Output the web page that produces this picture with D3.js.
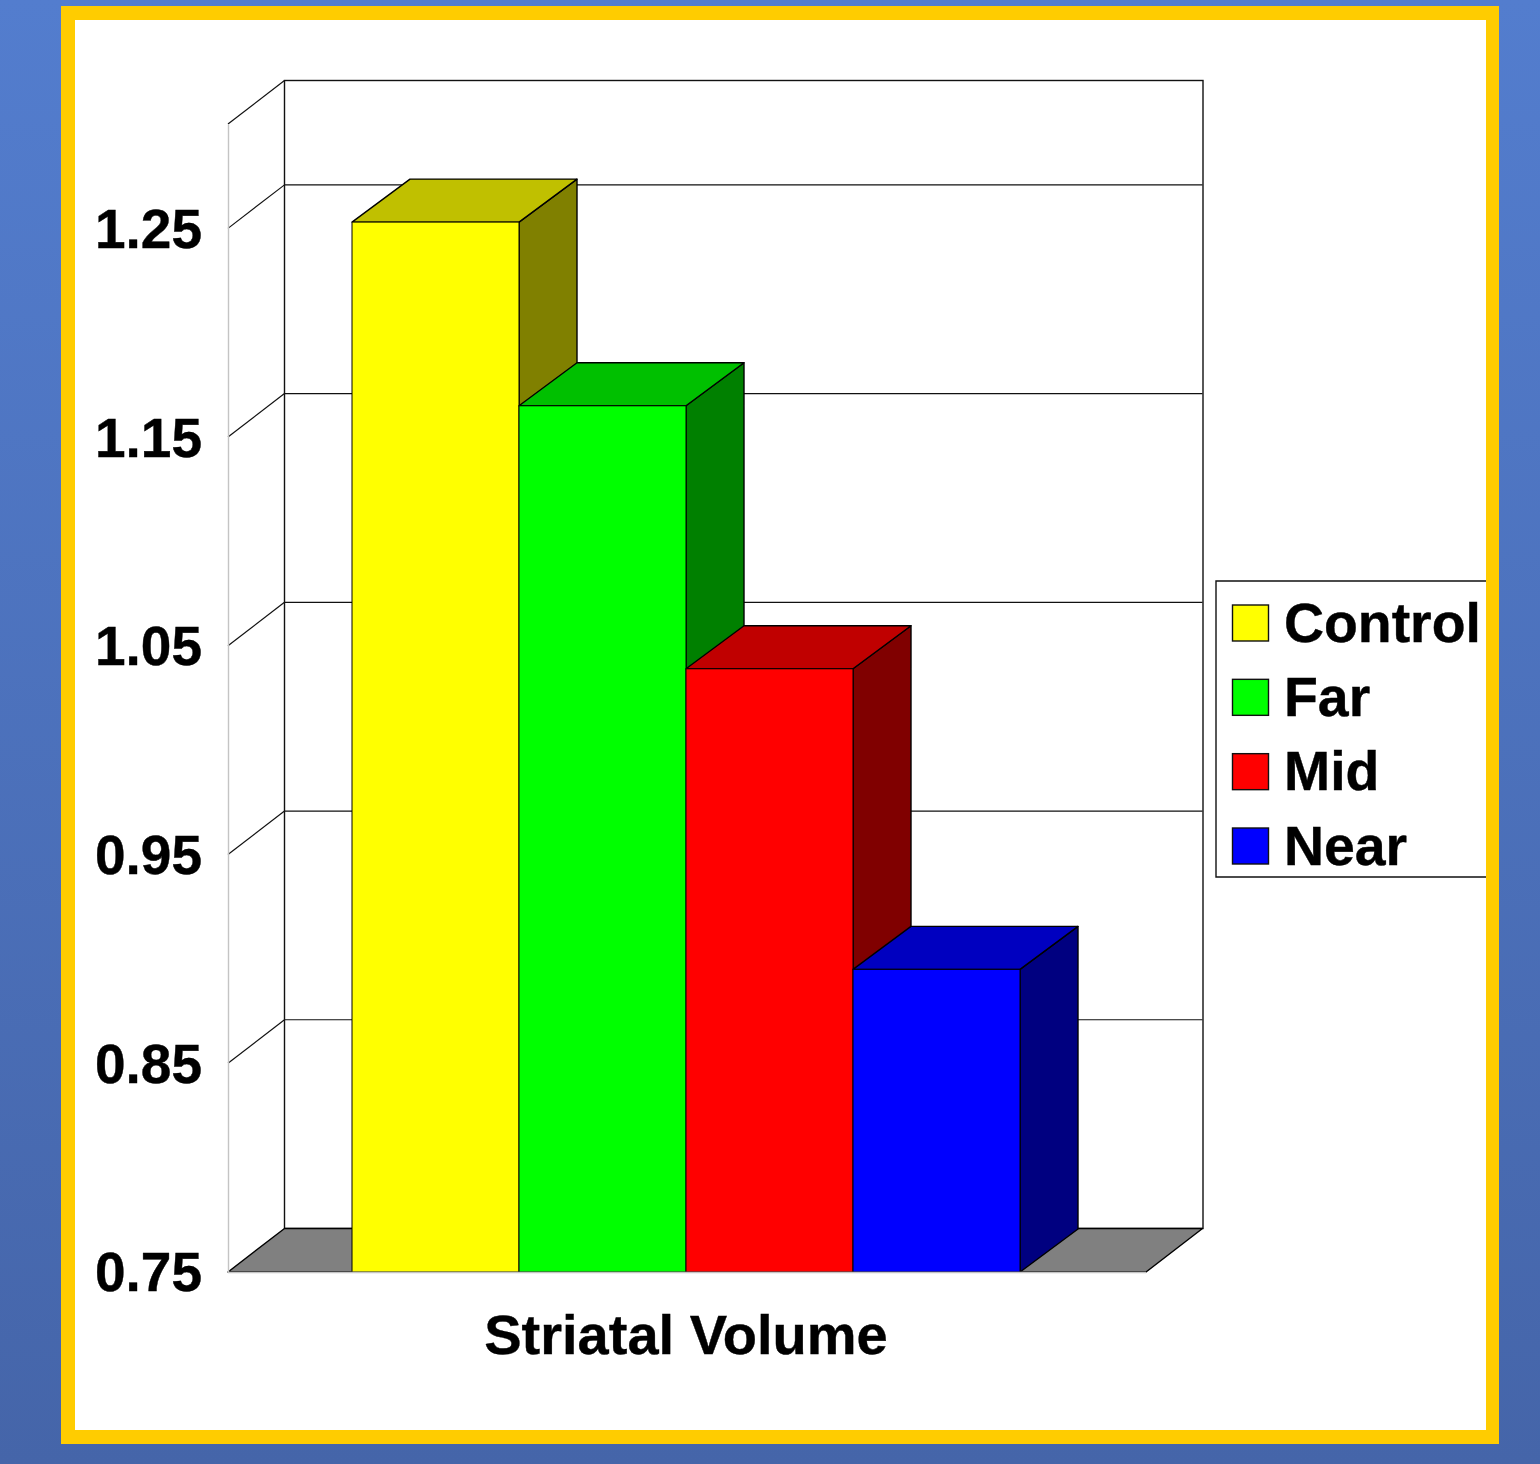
<!DOCTYPE html>
<html>
<head>
<meta charset="utf-8">
<script src="https://cdn.jsdelivr.net/npm/d3@7"></script>
<style>
html, body { margin: 0; padding: 0; background: #fff; overflow: hidden; }
svg { display: block; }
text { font-family: "Liberation Sans", Arial, sans-serif; font-weight: bold; fill: #000; stroke: #000; stroke-width: 0.4px; }
</style>
</head>
<body>
<svg width="1540" height="1464"></svg>
<script>
// values
var groups = ["Control", "Far", "Mid", "Near"];
var volumes = [1.253, 1.165, 1.039, 0.895];
var yTicks = [0.75, 0.85, 0.95, 1.05, 1.15, 1.25];
var frontColors = ["#ffff00", "#00ff00", "#ff0000", "#0000ff"];
var topColors = ["#c0c000", "#00c000", "#c00000", "#0000c0"];
var sideColors = ["#808000", "#008000", "#800000", "#000080"];
var categoryLabel = "Striatal Volume";

var svg = d3.select("svg"),
    width = +svg.attr("width"),
    height = +svg.attr("height");

// background + frame
var grad = svg.append("defs").append("linearGradient")
    .attr("id", "bg").attr("x1", 0).attr("y1", 0).attr("x2", 0).attr("y2", 1);
grad.append("stop").attr("offset", 0).attr("stop-color", "#537dce");
grad.append("stop").attr("offset", 1).attr("stop-color", "#4565a9");
svg.append("rect").attr("width", width).attr("height", height).attr("fill", "url(#bg)");
svg.append("rect").attr("x", 61).attr("y", 6).attr("width", 1438).attr("height", 1438).attr("fill", "#ffcc00");
svg.append("rect").attr("x", 75).attr("y", 20).attr("width", 1411).attr("height", 1410).attr("fill", "#fff");

// 3d depth of the plot box, bars stick out a touch further than the walls
var dx = 56.5, dy = -43.5;
var barDx = 58, barDy = -43;

var y = d3.scaleLinear().domain([0.75, 1.30]).range([1272, 124]);
var x = d3.scaleBand().domain(groups).range([352, 1020]);
var x0 = 228, x1 = 1146; // front edge of the floor
var base = y(0.75), top3d = y(1.30);

function poly(pts, fill, stroke) {
    return svg.append("polygon")
        .attr("points", pts.map(function(p) { return p.join(","); }).join(" "))
        .attr("fill", fill)
        .attr("stroke", stroke || "#000")
        .attr("stroke-width", 1.4)
        .attr("stroke-linejoin", "round");
}

// back wall and floor
svg.append("rect")
    .attr("x", x0 + dx).attr("y", top3d + dy)
    .attr("width", x1 - x0 + 0.5).attr("height", base - top3d)
    .attr("fill", "#fff").attr("stroke", "#111").attr("stroke-width", 1.4);
poly([[x0, base], [x0 + dx, base + dy], [x1 + dx, base + dy], [x1, base]], "#808080");

// grid lines on both walls
var gridVals = yTicks.slice(1).concat([1.30]);
svg.selectAll(".grid").data(gridVals).enter().append("line")
    .attr("class", "grid")
    .attr("x1", x0 + dx).attr("x2", x1 + dx)
    .attr("y1", function(d) { return y(d) + dy; })
    .attr("y2", function(d) { return y(d) + dy; })
    .attr("stroke", "#111").attr("stroke-width", 1.2);
svg.selectAll(".gridSide").data(gridVals).enter().append("line")
    .attr("class", "gridSide")
    .attr("x1", x0).attr("x2", x0 + dx)
    .attr("y1", function(d) { return y(d); })
    .attr("y2", function(d) { return y(d) + dy; })
    .attr("stroke", "#111").attr("stroke-width", 1.2);

// y axis, the domain line is the pale front edge
var yAxis = svg.append("g")
    .attr("transform", "translate(" + x0 + ",0)")
    .call(d3.axisLeft(y).tickValues(yTicks).tickFormat(d3.format(".2f")).tickSize(0).tickPadding(26));
yAxis.select(".domain").attr("stroke", "#c4c4c4").attr("stroke-width", 1.4);
yAxis.selectAll("text")
    .attr("font-size", 55)
    .attr("font-family", "Liberation Sans")
    .attr("font-weight", "bold")
    .attr("dy", "0.345em");

// bars, left to right so each one covers the side of the one before
groups.forEach(function(g, i) {
    var l = x(g), r = l + x.bandwidth(), t = y(volumes[i]);
    poly([[r, base], [r + barDx, base + barDy], [r + barDx, t + barDy], [r, t]], sideColors[i]);
    poly([[l, t], [l + barDx, t + barDy], [r + barDx, t + barDy], [r, t]], topColors[i]);
    poly([[l, base], [l, t], [r, t], [r, base]], frontColors[i], "#000").attr("stroke-width", 1);
});

// front floor edge, pale and on top of the bar feet
svg.append("line")
    .attr("x1", x0).attr("x2", x1)
    .attr("y1", base + 0.5).attr("y2", base + 0.5)
    .attr("stroke", "#c4c4c4").attr("stroke-width", 1.4);

// category label
svg.append("text")
    .attr("x", 686).attr("y", 1354)
    .attr("text-anchor", "middle")
    .attr("font-size", 56)
    .text(categoryLabel);

// legend, the right side runs into the frame
svg.append("path")
    .attr("d", d3.line()([[1486, 581], [1216, 581], [1216, 877], [1486, 877]]))
    .attr("fill", "#fff").attr("stroke", "#111").attr("stroke-width", 1.4);
var legendY = d3.scalePoint().domain(groups).range([623, 846]);
var legend = svg.selectAll(".legend").data(groups).enter().append("g")
    .attr("class", "legend")
    .attr("transform", function(d) { return "translate(0," + legendY(d) + ")"; });
legend.append("rect")
    .attr("x", 1232.5).attr("y", -18)
    .attr("width", 36).attr("height", 36)
    .attr("fill", function(d, i) { return frontColors[i]; })
    .attr("stroke", "#111").attr("stroke-width", 1.4);
legend.append("text")
    .attr("x", 1284).attr("y", 18.5)
    .attr("font-size", 55.4)
    .text(function(d) { return d; });
</script>
</body>
</html>
